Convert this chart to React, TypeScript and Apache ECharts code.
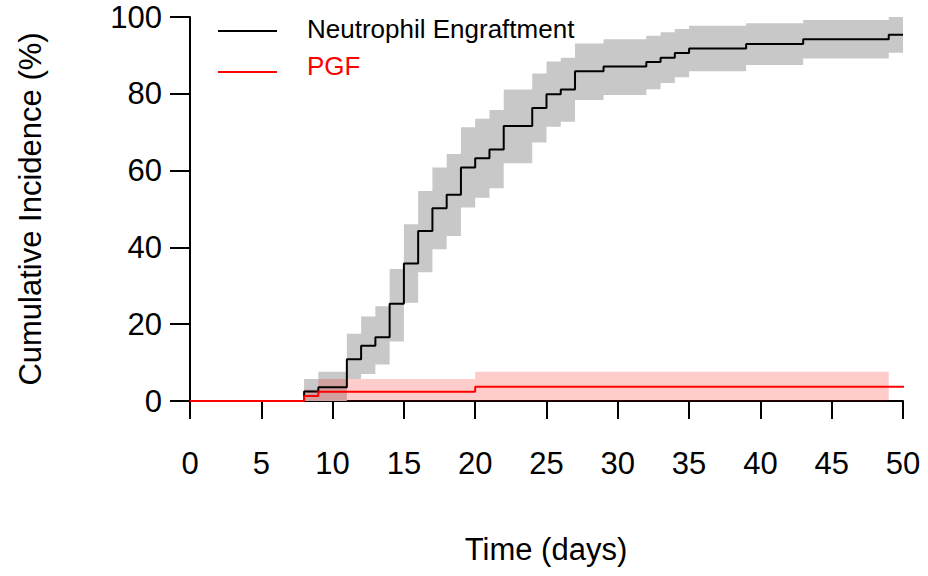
import React, { useEffect, useRef } from "react";
import * as echarts from "echarts";

// ---- Data ----
const neutTimes = [0, 8, 9, 11, 12, 13, 14, 15, 16, 17, 18, 19, 20, 21, 22, 24, 25, 26, 27, 29, 32, 33, 34, 35, 39, 43, 49, 50];
const neutEstimate = [0, 2.5, 3.6, 10.9, 14.4, 16.6, 25.3, 35.8, 44.3, 50.2, 53.7, 60.8, 63.2, 65.5, 71.6, 76.3, 79.9, 81.1, 85.9, 87.1, 88.3, 89.4, 90.6, 91.8, 93.0, 94.2, 95.4, 95.4];
const neutLower = [0, 0, 0, 5.7, 7.0, 9.5, 15.5, 25.6, 33.5, 39.5, 43.0, 50.4, 52.9, 55.4, 61.9, 67.3, 71.4, 72.7, 78.4, 79.7, 81.2, 82.8, 84.3, 85.9, 87.5, 89.2, 90.7, 90.7];
const neutUpper = [0, 5.7, 7.6, 17.5, 22.0, 24.7, 34.4, 46.0, 54.7, 60.8, 64.3, 71.3, 73.5, 75.8, 81.1, 85.3, 88.4, 89.4, 93.1, 94.2, 95.1, 96.0, 96.9, 97.7, 98.4, 99.2, 100, 100];

const pgfTimes = [0, 8, 9, 20, 52];
const pgfEstimate = [0, 1.3, 2.4, 3.7, 3.7];
const pgfBandTimes = [0, 8, 9, 20, 49];
const pgfLower = [0, 0, 0, 0, 0];
const pgfUpper = [0, 3.0, 5.7, 7.6, 7.6];

const xMin = 0;
const xMax = 50;
const xStep = 5;
const yMin = 0;
const yMax = 100;
const yStep = 20;

const legendLabels = ["Neutrophil Engraftment", "PGF"];
const xTitle = "Time (days)";
const yTitle = "Cumulative Incidence (%)";

const FONT = "'Liberation Sans', Arial, Helvetica, sans-serif";

// Step-shaped confidence band drawn as one polygon through the axes' scales.
function bandSeries(name: string, times: number[], lower: number[], upper: number[], color: string, z: number) {
  return {
    type: "custom",
    name,
    silent: true,
    z,
    data: times.map((t, i) => [t, lower[i], upper[i]]),
    encode: { x: 0, y: [1, 2] },
    renderItem: (params: any, api: any) => {
      if (params.dataIndex !== 0) return null;
      const pts: number[][] = [];
      for (let i = 0; i < times.length - 1; i++) {
        pts.push(api.coord([times[i], upper[i]]));
        pts.push(api.coord([times[i + 1], upper[i]]));
      }
      for (let i = times.length - 2; i >= 0; i--) {
        pts.push(api.coord([times[i + 1], lower[i]]));
        pts.push(api.coord([times[i], lower[i]]));
      }
      return { type: "polygon", shape: { points: pts }, style: { fill: color, stroke: "none" } };
    },
  };
}

export default function App() {
  const ref = useRef<HTMLDivElement>(null);

  useEffect(() => {
    if (!ref.current) return;
    const chart = echarts.init(ref.current, undefined, { renderer: "svg" });

    const option: any = {
      animation: false,
      backgroundColor: "#ffffff",
      grid: { left: 190, right: 25, top: 17, bottom: 175, containLabel: false },
      xAxis: {
        type: "value",
        min: xMin,
        max: xMax,
        interval: xStep,
        offset: 7,
        splitLine: { show: false },
        axisLine: { show: true, lineStyle: { color: "#000", width: 2 } },
        axisTick: { show: true, inside: false, length: 18, lineStyle: { color: "#000", width: 2 } },
        axisLabel: { color: "#000", fontSize: 31, fontFamily: FONT, margin: 40 },
      },
      yAxis: {
        type: "value",
        min: yMin,
        max: yMax,
        interval: yStep,
        splitLine: { show: false },
        axisLine: { show: true, lineStyle: { color: "#000", width: 2 } },
        axisTick: { show: true, inside: false, length: 20, lineStyle: { color: "#000", width: 2 } },
        axisLabel: { color: "#000", fontSize: 31, fontFamily: FONT, margin: 28 },
      },
      series: [
        bandSeries("neutBand", neutTimes, neutLower, neutUpper, "#c8c8c8", 1),
        bandSeries("pgfBand", pgfBandTimes, pgfLower, pgfUpper, "rgba(255,0,0,0.2)", 2),
        {
          type: "line",
          name: legendLabels[0],
          data: neutTimes.map((t, i) => [t, neutEstimate[i]]),
          step: "end",
          symbol: "none",
          lineStyle: { color: "#000000", width: 2 },
          z: 4,
        },
        {
          type: "line",
          name: legendLabels[1],
          data: pgfTimes.map((t, i) => [t, pgfEstimate[i]]),
          step: "end",
          symbol: "none",
          clip: false,
          lineStyle: { color: "#ff0000", width: 2 },
          z: 5,
        },
      ],
      graphic: [
        {
          type: "line",
          shape: { x1: 218, y1: 31, x2: 277, y2: 31 },
          style: { stroke: "#000", lineWidth: 2 },
        },
        {
          type: "text",
          x: 307,
          y: 29,
          style: { text: legendLabels[0], fill: "#000", fontSize: 26, fontFamily: FONT, align: "left", verticalAlign: "middle" },
        },
        {
          type: "line",
          shape: { x1: 218, y1: 72, x2: 277, y2: 72 },
          style: { stroke: "#ff0000", lineWidth: 2 },
        },
        {
          type: "text",
          x: 307,
          y: 66,
          style: { text: legendLabels[1], fill: "#ff0000", fontSize: 26, fontFamily: FONT, align: "left", verticalAlign: "middle" },
        },
        {
          type: "text",
          x: 30,
          y: 209,
          rotation: Math.PI / 2,
          style: { text: yTitle, fill: "#000", fontSize: 31, fontFamily: FONT, align: "center", verticalAlign: "middle" },
        },
        {
          type: "text",
          x: 546,
          y: 549,
          style: { text: xTitle, fill: "#000", fontSize: 31, fontFamily: FONT, align: "center", verticalAlign: "middle" },
        },
      ],
    };

    chart.setOption(option);
    return () => chart.dispose();
  }, []);

  return (
    <div
      ref={ref}
      style={{ position: "fixed", left: 0, top: 0, width: 928, height: 576, background: "#fff" }}
    />
  );
}
